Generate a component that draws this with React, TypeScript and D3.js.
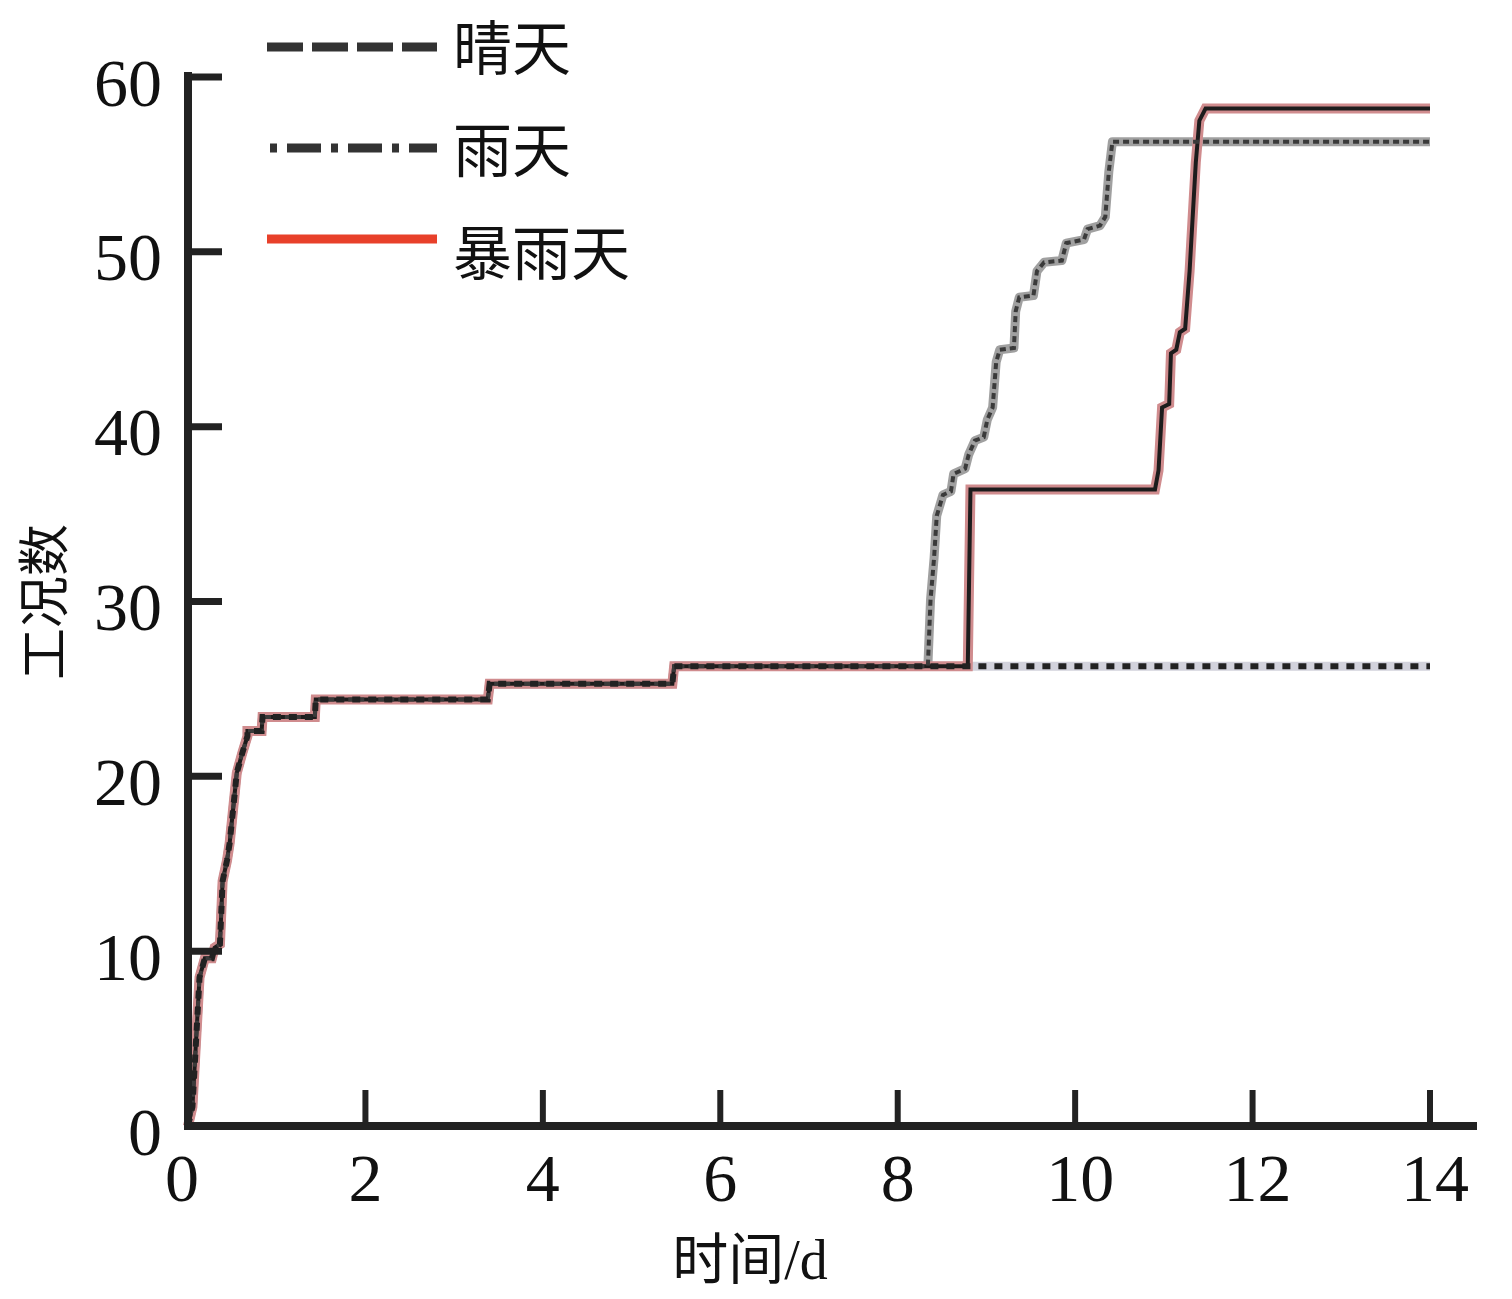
import React from 'react';
import * as d3 from 'd3';

const xTicks = [0, 2, 4, 6, 8, 10, 12, 14];
const yTicks = [0, 10, 20, 30, 40, 50, 60];

// part of the curve shared by all three weather cases (t in days, count)
const sharedRise: [number, number][] = [
  [0, 0], [0.05, 1.1], [0.13, 8.5], [0.19, 9.6], [0.27, 9.6], [0.3, 10.2],
  [0.36, 10.4], [0.39, 14], [0.44, 15.2], [0.47, 16.2], [0.51, 18.2],
  [0.55, 20.2], [0.61, 21.3], [0.67, 22.3], [0.67, 22.6], [0.83, 22.6],
  [0.84, 23.4], [1.43, 23.4], [1.44, 24.4], [3.38, 24.4], [3.4, 25.3],
  [5.46, 25.3], [5.48, 26.3],
];

const sunnyTail: [number, number][] = [[8.79, 26.3], [14, 26.3]];

const rainyTail: [number, number][] = [
  [8.34, 26.3], [8.37, 30.1], [8.41, 32.5], [8.44, 34.9], [8.51, 36.1],
  [8.6, 36.3], [8.63, 37.3], [8.76, 37.6], [8.8, 38.4], [8.87, 39.2],
  [8.97, 39.4], [9.01, 40.4], [9.07, 41.1], [9.11, 43.7], [9.15, 44.4],
  [9.31, 44.5], [9.33, 46.6], [9.37, 47.4], [9.53, 47.5], [9.57, 48.9],
  [9.65, 49.4], [9.85, 49.5], [9.9, 50.5], [10.1, 50.7], [10.14, 51.3],
  [10.28, 51.5], [10.34, 52.0], [10.38, 54.6], [10.42, 56.3], [14, 56.3],
];

const stormTail: [number, number][] = [
  [8.79, 26.3], [8.82, 36.4], [10.9, 36.4], [10.94, 37.5], [10.98, 41.1],
  [11.06, 41.3], [11.08, 44.2], [11.14, 44.4], [11.18, 45.4], [11.24, 45.6],
  [11.29, 48.9], [11.36, 55.1], [11.4, 57.5], [11.47, 58.2], [14, 58.2],
];

const legendNames = ['晴天', '雨天', '暴雨天'];

const sunny = [...sharedRise, ...sunnyTail];
const rainy = [...sharedRise, ...rainyTail];
const storm = [...sharedRise, ...stormTail];

const App: React.FC = () => {
  const width = 1512;
  const height = 1299;

  const x = d3.scaleLinear().domain([0, 14]).range([188, 1430]);
  const y = d3.scaleLinear().domain([0, 60]).range([1126, 77]);

  const line = d3
    .line<[number, number]>()
    .x((d) => x(d[0]))
    .y((d) => y(d[1]));

  const serif = "'Liberation Serif', 'Times New Roman', 'Noto Sans CJK SC', serif";
  const cjk = "'Noto Sans CJK SC', 'Liberation Serif', serif";

  // legend line styles
  const legendStyles = [
    { stroke: '#333', dash: '36,9' },
    { stroke: '#333', dash: '7,10,34,10' },
    { stroke: '#e8402a', dash: undefined },
  ];
  const legendY = [47, 148, 239];
  const legendBaseline = [70, 172, 275];

  return (
    <svg
      width={width}
      height={height}
      style={{ position: 'absolute', left: 0, top: 0, background: '#fff' }}
    >
      {/* series */}
      <path d={line(sunny) ?? ''} fill="none" stroke="#d2d2dc" strokeWidth={9} />
      <path d={line(rainy) ?? ''} fill="none" stroke="#a0a0a0" strokeWidth={9} strokeLinejoin="round" />
      <path d={line(storm) ?? ''} fill="none" stroke="#d08c8e" strokeWidth={10} />
      <path d={line(storm) ?? ''} fill="none" stroke="#1c1c1c" strokeWidth={4} />
      <path
        d={line(rainy) ?? ''}
        fill="none"
        stroke="#3a3a3a"
        strokeWidth={4}
        strokeDasharray="6,4"
      />
      <path
        d={line(sunny) ?? ''}
        fill="none"
        stroke="#222"
        strokeWidth={6}
        strokeDasharray="8,8"
      />

      {/* axes */}
      <line x1={188} x2={188} y1={72} y2={1130} stroke="#222" strokeWidth={8} />
      <line x1={184} x2={1477} y1={y(0)} y2={y(0)} stroke="#222" strokeWidth={8} />
      {yTicks.slice(1).map((t) => (
        <line key={'yt' + t} x1={188} x2={222} y1={y(t)} y2={y(t)} stroke="#222" strokeWidth={7} />
      ))}
      {xTicks.slice(1).map((t) => (
        <line key={'xt' + t} x1={x(t)} x2={x(t)} y1={1090} y2={y(0)} stroke="#222" strokeWidth={6} />
      ))}
      {yTicks.map((t) => (
        <text
          key={'yl' + t}
          x={162}
          y={y(t) + 13}
          textAnchor="end"
          dominantBaseline="middle"
          fontFamily={serif}
          fontSize={68}
          fill="#111"
        >
          {t}
        </text>
      ))}
      {xTicks.map((t) => (
        <text
          key={'xl' + t}
          x={x(t) - (t === 0 ? 6 : 0) + (t >= 10 ? 5 : 0)}
          y={1201}
          textAnchor="middle"
          fontFamily={serif}
          fontSize={68}
          fill="#111"
        >
          {t}
        </text>
      ))}

      {/* axis titles */}
      <text x={750} y={1279} textAnchor="middle" fontFamily={serif} fontSize={56} fill="#111">
        <tspan fontFamily={cjk}>时间</tspan>/d
      </text>
      <text
        transform="translate(63,602) rotate(-90)"
        textAnchor="middle"
        fontFamily={cjk}
        fontSize={52}
        fill="#111"
      >
        工况数
      </text>

      {/* legend */}
      {legendNames.map((name, i) => (
        <g key={name}>
          <line
            x1={i === 1 ? 270 : 267}
            x2={437}
            y1={legendY[i]}
            y2={legendY[i]}
            stroke={legendStyles[i].stroke}
            strokeWidth={9}
            strokeDasharray={legendStyles[i].dash}
          />
          <text
            x={453}
            y={legendBaseline[i]}
            fontFamily={cjk}
            fontSize={59}
            fill="#111"
          >
            {name}
          </text>
        </g>
      ))}
    </svg>
  );
};

export default App;
